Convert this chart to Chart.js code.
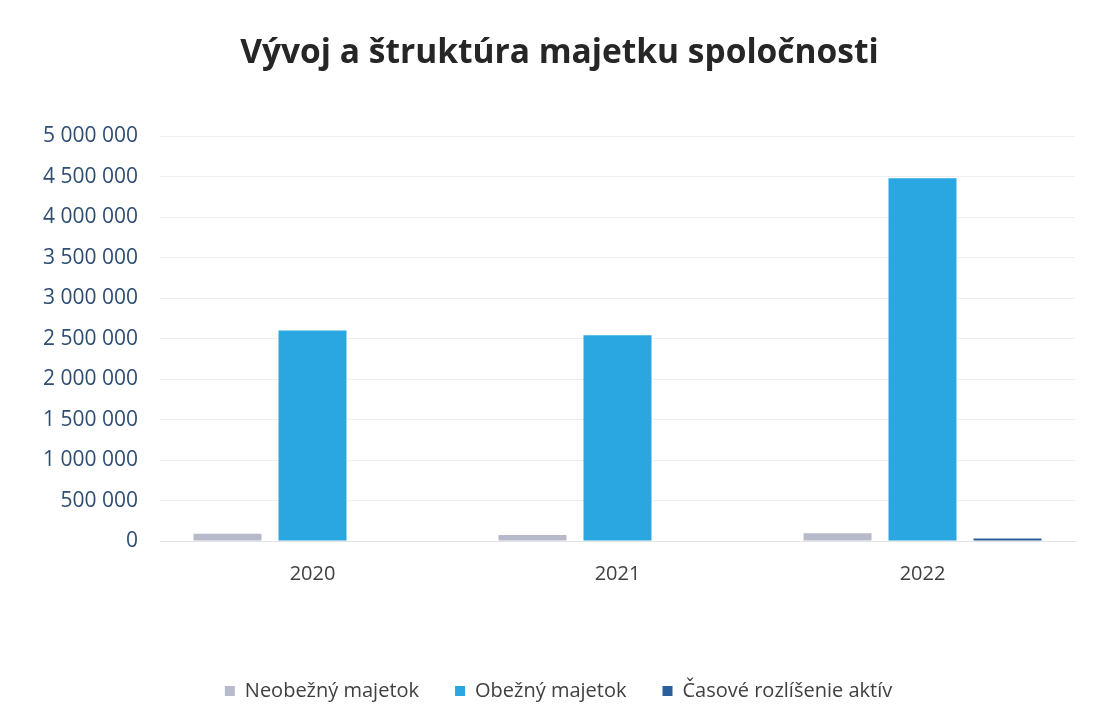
<!DOCTYPE html>
<html>
<head>
<meta charset="utf-8">
<script src="https://cdn.jsdelivr.net/npm/chart.js@4"></script>
<style>
  html, body { margin: 0; padding: 0; background: #ffffff; }
  #wrap { width: 1096px; height: 720px; position: relative; }
</style>
</head>
<body>
<div id="wrap"><canvas id="c" width="1096" height="720"></canvas></div>
<script>
const categories = ['2020', '2021', '2022'];
const neobeznyMajetok = [90000, 75000, 95000];
const obeznyMajetok = [2600000, 2540000, 4480000];
const casoveRozlisenie = [0, 0, 30000];
const seriesNames = ['Neobežný majetok', 'Obežný majetok', 'Časové rozlíšenie aktív'];
const chartTitle = 'Vývoj a štruktúra majetku spoločnosti';

const FONT = "'Open Sans', 'DejaVu Sans', sans-serif";

function fmt(v) {
  return String(Math.round(v)).replace(/\B(?=(\d{3})+(?!\d))/g, ' ');
}

const shiftBlocks = {
  id: 'shiftBlocks',
  afterLayout(chart) {
    const t = chart.titleBlock;
    if (t) { t.left += 22; t.right += 22; }
    const l = chart.legend;
    if (l) { l.left += 21; l.right += 21; }
  }
};

new Chart(document.getElementById('c'), {
  type: 'bar',
  plugins: [shiftBlocks],
  data: {
    labels: categories,
    datasets: [
      { label: seriesNames[0], data: neobeznyMajetok, backgroundColor: '#b7bacb' },
      { label: seriesNames[1], data: obeznyMajetok, backgroundColor: '#2aa7e1' },
      { label: seriesNames[2], data: casoveRozlisenie, backgroundColor: '#2b5f9c' }
    ]
  },
  options: {
    responsive: false,
    animation: false,
    datasets: { bar: { categoryPercentage: 0.836, barPercentage: 0.8 } },
    layout: { padding: { top: 33, right: 21, bottom: 9, left: 0 } },
    plugins: {
      title: {
        display: true,
        text: chartTitle,
        color: '#262626',
        font: { family: FONT, size: 33.5, weight: 'bold' },
        padding: { top: 0, bottom: 63 }
      },
      legend: {
        position: 'bottom',
        labels: {
          color: '#404040',
          font: { family: FONT, size: 20 },
          boxWidth: 10,
          boxHeight: 10,
          padding: 36
        }
      },
      tooltip: { enabled: false }
    },
    scales: {
      x: {
        grid: { display: false },
        border: { display: true, color: '#e3e3e3' },
        ticks: { color: '#404040', font: { family: FONT, size: 20 }, padding: 13 },
        afterFit: (s) => { s.height = 104; }
      },
      y: {
        min: 0,
        max: 5000000,
        grid: { color: '#efefef', drawTicks: false },
        border: { display: false },
        ticks: {
          stepSize: 500000,
          color: '#2e4d73',
          font: { family: FONT, size: 21 },
          padding: 22,
          callback: (v) => fmt(v)
        },
        afterFit: (s) => { s.width = 160; }
      }
    }
  }
});
</script>
</body>
</html>
